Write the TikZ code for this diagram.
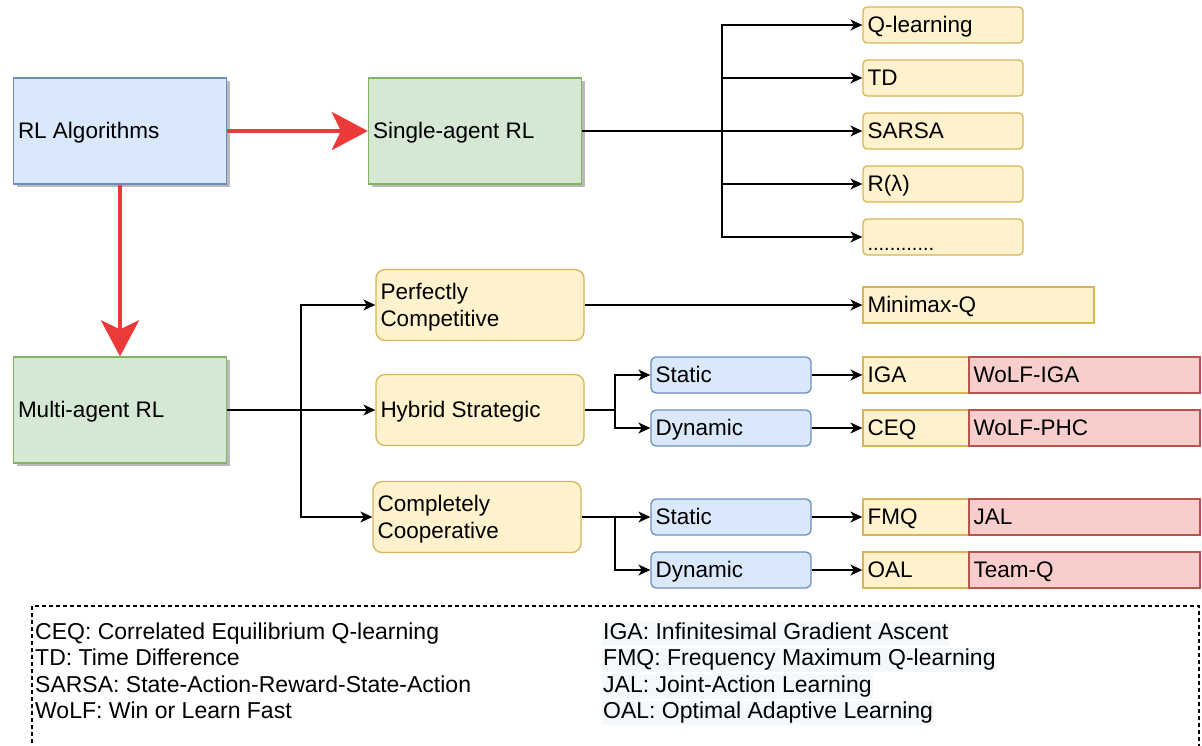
\documentclass[tikz,border=0pt]{standalone}
\usepackage{fontspec}
\setmainfont{Liberation Sans}
\usetikzlibrary{arrows.meta,shadows}

\definecolor{bluefill}{HTML}{DAE8FC}
\definecolor{bluedraw}{HTML}{6C8EBF}
\definecolor{greenfill}{HTML}{D5E8D4}
\definecolor{greendraw}{HTML}{82B366}
\definecolor{yelfill}{HTML}{FFF2CC}
\definecolor{yeldraw}{HTML}{D6B656}
\definecolor{redfill}{HTML}{F8CECC}
\definecolor{reddraw}{HTML}{B85450}
\definecolor{arrowred}{HTML}{EC3A3A}
\definecolor{notebg}{HTML}{F5F8FB}

\tikzset{
  base/.style={inner xsep=4.5pt, inner ysep=0pt, align=flush left, line width=1.3pt,
    text height=20.4pt, text depth=4.8pt},
  twolines/.style={text depth=31.3pt},
  shade/.style={drop shadow={shadow xshift=3pt, shadow yshift=-3pt, fill=black!27, opacity=1}},
  bluebox/.style={base, draw=bluedraw, fill=bluefill},
  greenbox/.style={base, draw=greendraw, fill=greenfill},
  yelbox/.style={base, draw=yeldraw, fill=yelfill},
  redbox/.style={base, draw=reddraw, fill=redfill},
  bigbox/.style={minimum height=106pt, text width=204pt, shade},
  leaf/.style={yelbox, rounded corners=4pt, minimum height=36pt, text width=151pt},
  kind/.style={yelbox, rounded corners=9pt, minimum height=71pt, text width=199pt},
  phase/.style={bluebox, rounded corners=5pt, minimum height=36pt, text width=151pt},
  algo/.style={yelbox, minimum height=36pt, text width=97pt},
  variant/.style={redbox, minimum height=36pt, text width=222pt},
  plain/.style={line width=1.3pt},
  conn/.style={plain, -{Stealth[length=12pt,width=11pt,inset=3.5pt]}},
  bigarrow/.style={draw=arrowred, line width=4.5pt,
    -{Stealth[length=36pt,width=38pt,inset=9pt]}},
  noteline/.style={anchor=base west, inner xsep=0pt, inner ysep=0pt},
  notehl/.style={noteline, fill=notebg, inner xsep=1pt, text height=18pt, text depth=6.5pt},
}

\begin{document}
\begin{tikzpicture}[x=1pt, y=-1pt, font=\fontsize{22.5}{26.5}\selectfont]
\useasboundingbox (0,0) rectangle (1202,745);

% top level
\node[bluebox, bigbox] (rl) at (120,131) {RL Algorithms};
\node[greenbox, bigbox] (sa) at (475,131) {Single-agent RL};
\node[greenbox, bigbox] (ma) at (120,410) {Multi-agent RL};

\draw[bigarrow] (rl.east) -- (sa.west);
\draw[bigarrow] (rl.south) -- (ma.north);

% single-agent methods
\node[leaf] (ql) at (943,25) {Q-learning};
\node[leaf] (td) at (943,78) {TD};
\node[leaf] (sarsa) at (943,131) {SARSA};
\node[leaf] (rlam) at (943,184) {R(λ)};
\node[leaf] (more) at (943,237) {\fontsize{20}{24}\selectfont\raisebox{-6pt}{............}};

\coordinate (sj) at (722,131);
\draw[plain] (sa.east) -- (sj);
\foreach \t in {ql,td,sarsa,rlam,more}
  \draw[conn] (sj) |- (\t.west);

% multi-agent settings
\node[kind, twolines] (pc) at (480,305) {Perfectly\\Competitive};
\node[kind] (hs) at (480,410) {Hybrid Strategic};
\node[kind, twolines] (cc) at (477,517) {Completely\\Cooperative};

\coordinate (mj) at (301,410);
\draw[plain] (ma.east) -- (mj);
\foreach \t in {pc,hs,cc}
  \draw[conn] (mj) |- (\t.west);

% static / dynamic games
\node[phase] (st1) at (731,375) {Static};
\node[phase] (dy1) at (731,428) {Dynamic};
\node[phase] (st2) at (731,517) {Static};
\node[phase] (dy2) at (731,570) {Dynamic};

\coordinate (hj) at (615,410);
\coordinate (cj) at (615,517);
\draw[plain] (hs.east) -- (hj);
\draw[conn] (hj) |- (st1.west);
\draw[conn] (hj) |- (dy1.west);
\draw[plain] (cc.east) -- (cj);
\draw[conn] (cj) |- (st2.west);
\draw[conn] (cj) |- (dy2.west);

% algorithms
\node[yelbox, minimum height=36pt, text width=222pt] (mm) at (978.5,305) {Minimax-Q};
\draw[conn] (pc.east) -- (mm.west);

\node[algo] (iga) at (916,375) {IGA};
\node[variant] (wiga) at (1084.5,375) {WoLF-IGA};
\node[algo] (ceq) at (916,428) {CEQ};
\node[variant] (wphc) at (1084.5,428) {WoLF-PHC};
\node[algo] (fmq) at (916,517) {FMQ};
\node[variant] (jal) at (1084.5,517) {JAL};
\node[algo] (oal) at (916,570) {OAL};
\node[variant] (teamq) at (1084.5,570) {Team-Q};

\draw[conn] (st1.east) -- (iga.west);
\draw[conn] (dy1.east) -- (ceq.west);
\draw[conn] (st2.east) -- (fmq.west);
\draw[conn] (dy2.east) -- (oal.west);

% abbreviations
\draw[line width=1.3pt, dash pattern=on 4pt off 3pt]
  (32,750) -- (32,606) -- (1199,606) -- (1199,750);

\begin{scope}[font=\fontsize{23}{26.5}\selectfont]
\node[noteline] (n1) at (35,639) {CEQ: Correlated Equilibrium Q-learning};
\node[noteline] (n2) at (35,665.5) {TD: Time Difference};
\node[noteline] (n3) at (35,692) {SARSA: State-Action-Reward-State-Action};
\node[noteline] (n4) at (35,718.5) {WoLF: Win or Learn Fast};

\node[notehl] (n5) at (602,639) {IGA: Infinitesimal Gradient Ascent};
\node[notehl] (n6) at (602,665.5) {FMQ: Frequency Maximum Q-learning};
\node[notehl] (n7) at (602,692) {JAL: Joint-Action Learning};
\node[notehl] (n8) at (602,718.5) {OAL: Optimal Adaptive Learning};
\end{scope}
\end{tikzpicture}
\end{document}
